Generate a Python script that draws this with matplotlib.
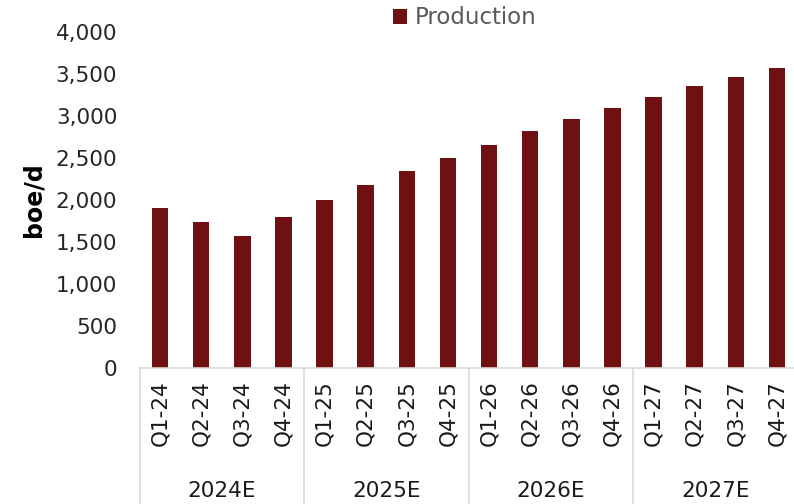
import matplotlib
matplotlib.use("Agg")
import matplotlib.pyplot as plt
from matplotlib.ticker import FuncFormatter

quarters = ["Q1-24", "Q2-24", "Q3-24", "Q4-24",
            "Q1-25", "Q2-25", "Q3-25", "Q4-25",
            "Q1-26", "Q2-26", "Q3-26", "Q4-26",
            "Q1-27", "Q2-27", "Q3-27", "Q4-27"]
years = ["2024E", "2025E", "2026E", "2027E"]
production = [1905, 1740, 1571, 1798, 2004, 2179, 2345, 2495,
              2658, 2817, 2960, 3095, 3226, 3357, 3468, 3575]

plt.rcParams['font.family'] = ['DejaVu Sans']
W, H = 794, 504
AXW = 658
fig = plt.figure(figsize=(W/100, H/100), dpi=100)
ax = fig.add_axes([139.5/W, (H-368)/H, AXW/W, 336/H])

bar_color = "#6F1112"
x = list(range(len(quarters)))
ax.bar(x, production, width=0.4, color=bar_color, label="Production")

ax.set_xlim(-0.5, len(quarters) - 0.5)
ax.set_ylim(0, 4000)
ax.set_yticks(range(0, 4001, 500))
ax.yaxis.set_major_formatter(FuncFormatter(lambda v, p: f"{int(v):,}"))
ax.tick_params(axis='y', length=0, labelsize=15.5, colors="#262626", pad=16)
ax.set_xticks(x)
ax.set_xticklabels(quarters, rotation=90, fontsize=15.5, color="#1a1a1a")
ax.tick_params(axis='x', length=0, pad=9)

for s in ["top", "right", "left"]:
    ax.spines[s].set_visible(False)
ax.spines["bottom"].set_color("#d9d9d9")
ax.spines["bottom"].set_linewidth(1.2)

ax.set_ylabel("boe/d", fontsize=17, fontweight="bold", color="black")
ax.yaxis.set_label_coords(-94/AXW, 0.5)

trans = ax.get_xaxis_transform()
for g in range(len(years)):
    xs = g * 4 - 0.5
    ax.plot([xs, xs], [0, -0.42], transform=trans, color="#d9d9d9", lw=1.2, clip_on=False)
for g, yr in enumerate(years):
    ax.text(g * 4 + 1.5, -0.365, yr, transform=trans, ha="center", va="center",
            fontsize=15.5, color="#1a1a1a")

fig.legend(loc="center", bbox_to_anchor=(465/W, 1 - 18/H), frameon=False,
           fontsize=16.5, labelcolor="#595959", handlelength=0.62, handleheight=0.62,
           handletextpad=0.35)

fig.savefig("out.png", dpi=100)
